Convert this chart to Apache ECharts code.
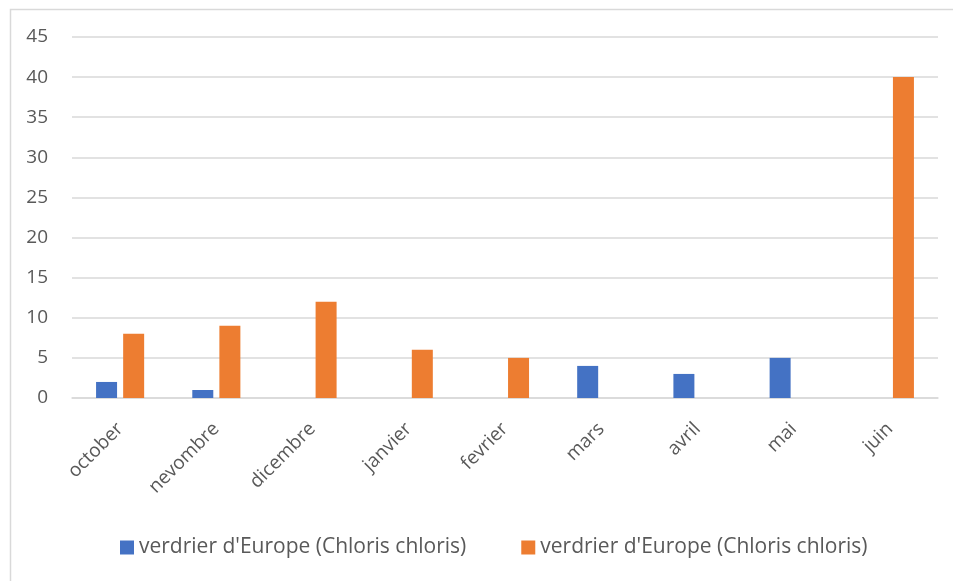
<!DOCTYPE html>
<html>
<head>
<meta charset="utf-8">
<style>
  html, body { margin: 0; padding: 0; background: #ffffff; }
  #chart { width: 953px; height: 581px; }
</style>
<script src="https://cdn.jsdelivr.net/npm/echarts@6/dist/echarts.min.js"></script>
</head>
<body>
<div id="chart"></div>
<script>
// Monthly counts of the European greenfinch (two series, same name)
const months = ['october', 'nevombre', 'dicembre', 'janvier', 'fevrier', 'mars', 'avril', 'mai', 'juin'];
const seriesNames = ["verdrier d'Europe (Chloris chloris)", "verdrier d'Europe (Chloris chloris)"];
const blueCounts = [2, 1, null, null, null, 4, 3, 5, null];
const orangeCounts = [8, 9, 12, 6, 5, null, null, null, 40];
const yTicks = { min: 0, max: 45, step: 5 };

const FONT = '"Open Sans", sans-serif';
const TEXT = '#595959';
const GRID = '#d9d9d9';

const chart = echarts.init(document.getElementById('chart'), null, { renderer: 'canvas' });

chart.setOption({
  backgroundColor: '#ffffff',
  animation: false,
  graphic: [{
    type: 'rect',
    left: 8, top: 7,
    shape: { width: 980, height: 620 },
    style: { fill: 'none', stroke: GRID, lineWidth: 1.5 },
    silent: true, z: -1
  }],
  grid: { left: 72, right: 15, top: 37, bottom: 183 },
  legend: {
    left: 115, top: 532,
    itemWidth: 14, itemHeight: 14, itemGap: 55,
    icon: 'rect',
    textStyle: { fontFamily: FONT, fontSize: 21, color: TEXT },
    data: [
      { name: 'a', itemStyle: { color: '#4472c4' } },
      { name: 'b', itemStyle: { color: '#ed7d31' } }
    ],
    formatter: function (n) { return n === 'a' ? seriesNames[0] : seriesNames[1]; }
  },
  xAxis: {
    type: 'category',
    data: months,
    axisLine: { lineStyle: { color: GRID, width: 1.5 } },
    axisTick: { show: false },
    axisLabel: {
      rotate: 45, interval: 0, margin: 28,
      fontFamily: FONT, fontSize: 19, color: TEXT
    }
  },
  yAxis: {
    type: 'value',
    min: yTicks.min, max: yTicks.max, interval: yTicks.step,
    axisLine: { show: false },
    axisTick: { show: false },
    splitLine: { lineStyle: { color: GRID, width: 1.5 } },
    axisLabel: { margin: 24, fontFamily: FONT, fontSize: 19, color: TEXT }
  },
  series: [
    {
      name: 'a', type: 'bar', data: blueCounts,
      barWidth: 21, barGap: '29%',
      itemStyle: { color: '#4472c4' }
    },
    {
      name: 'b', type: 'bar', data: orangeCounts,
      barWidth: 21, barGap: '29%',
      itemStyle: { color: '#ed7d31' }
    }
  ]
});
</script>
</body>
</html>
